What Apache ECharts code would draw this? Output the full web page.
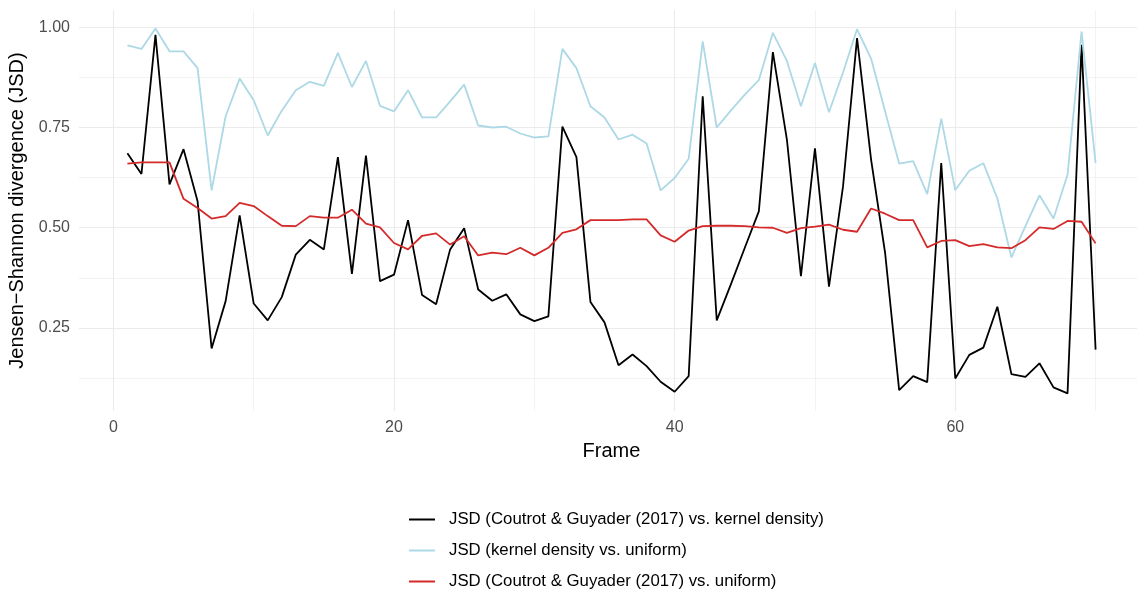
<!DOCTYPE html>
<html>
<head>
<meta charset="utf-8">
<title>Jensen–Shannon divergence per frame</title>
<script src="https://cdn.jsdelivr.net/npm/echarts@6/dist/echarts.min.js"></script>
<style>
  html, body { margin: 0; padding: 0; background: #ffffff; }
  #chart { width: 1137px; height: 592px; }
</style>
</head>
<body>
<div id="chart"></div>
<script>
// Frame index for every measurement
const frames = [
  1, 2, 3, 4, 5, 6, 7, 8, 9, 10,
  11, 12, 13, 14, 15, 16, 17, 18, 19, 20,
  21, 22, 23, 24, 25, 26, 27, 28, 29, 30,
  31, 32, 33, 34, 35, 36, 37, 38, 39, 40,
  41, 42, 43, 44, 45, 46, 47, 48, 49, 50,
  51, 52, 53, 54, 55, 56, 57, 58, 59, 60,
  61, 62, 63, 64, 65, 66, 67, 68, 69, 70
];

// JSD (Coutrot & Guyader (2017) vs. kernel density)
const jsdCoutrotKernel = [
  0.686, 0.634, 0.981, 0.608, 0.696, 0.566, 0.199, 0.317, 0.531, 0.311,
  0.269, 0.327, 0.433, 0.470, 0.446, 0.676, 0.385, 0.680, 0.367, 0.383,
  0.519, 0.332, 0.309, 0.446, 0.499, 0.346, 0.318, 0.334, 0.284, 0.267,
  0.279, 0.752, 0.676, 0.315, 0.264, 0.157, 0.184, 0.155, 0.116, 0.091,
  0.130, 0.828, 0.269, 0.358, 0.450, 0.541, 0.938, 0.720, 0.379, 0.698,
  0.353, 0.603, 0.973, 0.670, 0.437, 0.095, 0.130, 0.115, 0.661, 0.124,
  0.183, 0.201, 0.303, 0.135, 0.128, 0.162, 0.102, 0.087, 0.956, 0.196
];

// JSD (kernel density vs. uniform)
const jsdKernelUniform = [
  0.955, 0.946, 0.997, 0.940, 0.940, 0.898, 0.593, 0.778, 0.872, 0.818,
  0.730, 0.792, 0.843, 0.864, 0.854, 0.936, 0.851, 0.916, 0.804, 0.790,
  0.843, 0.775, 0.775, 0.815, 0.857, 0.755, 0.750, 0.752, 0.735, 0.725,
  0.728, 0.946, 0.898, 0.803, 0.775, 0.720, 0.732, 0.710, 0.593, 0.624,
  0.672, 0.965, 0.750, 0.792, 0.832, 0.868, 0.986, 0.916, 0.803, 0.911,
  0.788, 0.887, 0.995, 0.922, 0.790, 0.660, 0.666, 0.584, 0.772, 0.594,
  0.642, 0.661, 0.573, 0.426, 0.504, 0.581, 0.523, 0.632, 0.989, 0.662
];

// JSD (Coutrot & Guyader (2017) vs. uniform)
const jsdCoutrotUniform = [
  0.660, 0.663, 0.663, 0.663, 0.572, 0.549, 0.523, 0.529, 0.562, 0.554,
  0.529, 0.505, 0.504, 0.529, 0.525, 0.525, 0.545, 0.510, 0.501, 0.462,
  0.446, 0.480, 0.486, 0.458, 0.479, 0.431, 0.438, 0.434, 0.450, 0.431,
  0.450, 0.487, 0.496, 0.519, 0.519, 0.519, 0.521, 0.521, 0.481, 0.465,
  0.493, 0.504, 0.505, 0.505, 0.504, 0.501, 0.500, 0.487, 0.499, 0.503,
  0.508, 0.495, 0.490, 0.548, 0.535, 0.519, 0.519, 0.451, 0.467, 0.469,
  0.454, 0.459, 0.451, 0.449, 0.469, 0.501, 0.497, 0.517, 0.515, 0.461
];

const seriesNames = [
  'JSD (Coutrot & Guyader (2017) vs. kernel density)',
  'JSD (kernel density vs. uniform)',
  'JSD (Coutrot & Guyader (2017) vs. uniform)'
];
const seriesValues = [jsdCoutrotKernel, jsdKernelUniform, jsdCoutrotUniform];
const seriesColors = ['#000000', '#ADD8E6', '#D42A2A'];

// Axis limits padded 5% beyond the data range on each side
const xMin = -2.45, xMax = 73.45, xStep = 20;
const yMin = 0.043, yMax = 1.043, yStep = 0.25;

const FONT = '"Liberation Sans", Arial, Helvetica, sans-serif';
const GRID_MAJOR = { color: '#EBEBEB', width: 1.1 };
const GRID_MINOR = { color: '#EBEBEB', width: 0.6 };

const chart = echarts.init(document.getElementById('chart'), null, { renderer: 'canvas' });

chart.setOption({
  backgroundColor: '#ffffff',
  animation: false,
  textStyle: { fontFamily: FONT },
  grid: {
    left: 79, top: 10, width: 1065, height: 401,
    containLabel: false,
    outerBoundsMode: 'none'
  },
  xAxis: {
    type: 'value',
    min: xMin, max: xMax,
    minInterval: xStep, maxInterval: xStep,
    name: 'Frame',
    nameLocation: 'middle',
    nameGap: 30,
    nameTextStyle: { fontFamily: FONT, fontSize: 20, color: '#000000' },
    axisLine: { show: false },
    axisTick: { show: false },
    axisLabel: {
      margin: 9, fontSize: 16, color: '#4D4D4D', fontFamily: FONT,
      showMinLabel: false, showMaxLabel: false
    },
    splitLine: { show: true, showMinLine: false, showMaxLine: false, lineStyle: GRID_MAJOR },
    minorTick: { show: false, splitNumber: 2 },
    minorSplitLine: { show: true, lineStyle: GRID_MINOR }
  },
  yAxis: {
    type: 'value',
    min: yMin, max: yMax,
    minInterval: yStep, maxInterval: yStep,
    name: 'Jensen\u2212Shannon divergence (JSD)',
    nameLocation: 'middle',
    nameGap: 41,
    nameTextStyle: { fontFamily: FONT, fontSize: 20, color: '#000000' },
    axisLine: { show: false },
    axisTick: { show: false },
    axisLabel: {
      margin: 9, fontSize: 16, color: '#4D4D4D', fontFamily: FONT,
      showMinLabel: false, showMaxLabel: false,
      formatter: v => v.toFixed(2)
    },
    splitLine: { show: true, showMinLine: false, showMaxLine: false, lineStyle: GRID_MAJOR },
    minorTick: { show: false, splitNumber: 2 },
    minorSplitLine: { show: true, lineStyle: GRID_MINOR }
  },
  legend: {
    orient: 'vertical',
    left: 409,
    top: 511,
    height: 90,
    padding: 0,
    icon: 'rect',
    itemWidth: 26,
    itemHeight: 2,
    itemGap: 14,
    data: seriesNames,
    textStyle: {
      fontFamily: FONT, fontSize: 16.8, color: '#000000',
      lineHeight: 16, padding: [0, 0, 0, 9]
    }
  },
  series: seriesNames.map((name, i) => ({
    name: name,
    type: 'line',
    symbol: 'none',
    clip: true,
    color: seriesColors[i],
    lineStyle: { color: seriesColors[i], width: 1.8 },
    data: frames.map((f, k) => [f, seriesValues[i][k]]),
    z: 2 + i
  }))
});
</script>
</body>
</html>
